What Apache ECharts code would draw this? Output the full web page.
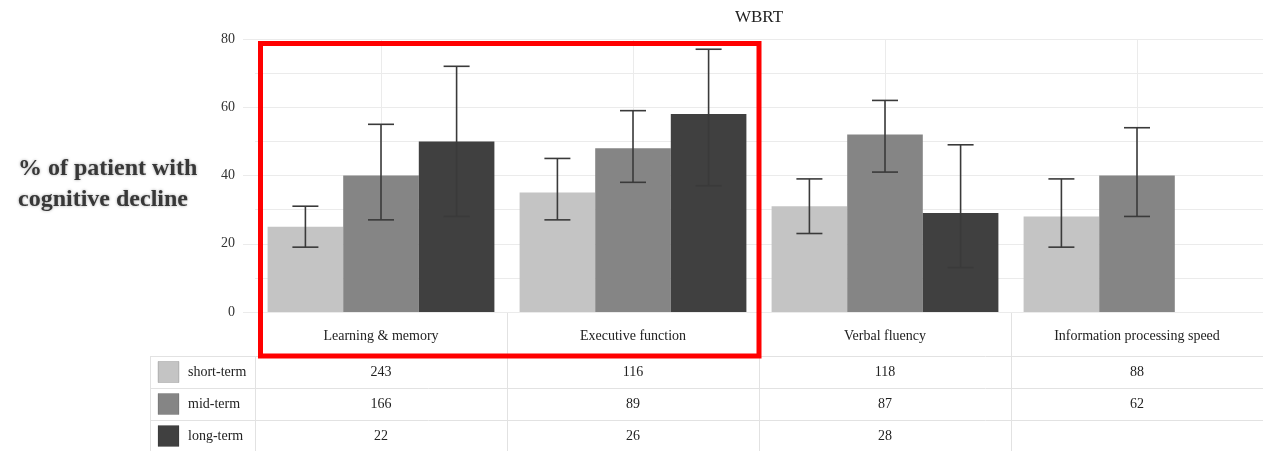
<!DOCTYPE html>
<html><head><meta charset="utf-8">
<script src="https://cdn.jsdelivr.net/npm/echarts@6/dist/echarts.min.js"></script>
<style>html,body{margin:0;padding:0;background:#fff}#c{width:1263px;height:451px}</style>
</head><body><div id="c"></div>
<script>
const categories = ['Learning & memory','Executive function','Verbal fluency','Information processing speed'];
const seriesNames = ['short-term','mid-term','long-term'];
const shortTerm = [25,35,31,28];
const midTerm = [40,48,52,40];
const longTerm = [50,58,29,null];
const shortErrLow = [19,27,23,19];
const shortErrHigh = [31,45,39,39];
const midErrLow = [27,38,41,28];
const midErrHigh = [55,59,62,54];
const longErrLow = [28,37,13,null];
const longErrHigh = [72,77,49,null];
const shortN = [243,116,118,88];
const midN = [166,89,87,62];
const longN = [22,26,28,null];
const yMin = 0, yMax = 80, yLabelStep = 20;

const colors = ['#c4c4c4','#858585','#404040'];
const FONT = 'Liberation Serif';
const GRID = '#ebebeb';

const values = [shortTerm, midTerm, longTerm];
const lows = [shortErrLow, midErrLow, longErrLow];
const highs = [shortErrHigh, midErrHigh, longErrHigh];
const counts = [shortN, midN, longN];

function errSeries(k) {
  const data = [];
  categories.forEach((c, i) => {
    if (lows[k][i] != null && highs[k][i] != null) data.push([i, lows[k][i], highs[k][i]]);
  });
  return {
    type: 'custom', name: seriesNames[k] + ' err', z: 5,
    encode: { x: 0, y: [1, 2] },
    data: data,
    renderItem: function (params, api) {
      const idx = api.value(0);
      const band = api.size([1, 0])[0];
      const bw = band * 0.9 / 3;
      const x = api.coord([idx, 0])[0] + (k - 1) * bw;
      const yl = api.coord([idx, api.value(1)])[1];
      const yh = api.coord([idx, api.value(2)])[1];
      const cap = 13;
      const st = { stroke: '#3a3a3a', lineWidth: 1.6 };
      return { type: 'group', children: [
        { type: 'line', shape: { x1: x, y1: yl, x2: x, y2: yh }, style: st },
        { type: 'line', shape: { x1: x - cap, y1: yh, x2: x + cap, y2: yh }, style: st },
        { type: 'line', shape: { x1: x - cap, y1: yl, x2: x + cap, y2: yl }, style: st }
      ]};
    }
  };
}

const option = {
  animation: false,
  backgroundColor: '#fff',
  grid: { left: 255, top: 39, width: 1013, height: 273, containLabel: false },
  xAxis: {
    type: 'category', data: categories,
    axisLine: { show: true, lineStyle: { color: GRID, width: 1 } },
    axisTick: { show: false },
    axisLabel: { margin: 17, fontFamily: FONT, fontSize: 14, color: '#222' },
    splitLine: { show: true, alignWithLabel: true, lineStyle: { color: GRID, width: 1 } }
  },
  yAxis: {
    type: 'value', min: yMin, max: yMax, interval: yLabelStep,
    axisLine: { show: false },
    axisTick: { show: true, length: 12, lineStyle: { color: GRID } },
    minorTick: { show: false, splitNumber: 2 },
    minorSplitLine: { show: true, lineStyle: { color: GRID, width: 1 } },
    axisLabel: { margin: 20, fontFamily: FONT, fontSize: 14, color: '#333' },
    splitLine: { show: true, lineStyle: { color: GRID, width: 1 } }
  },
  series: [
    ...seriesNames.map((n, k) => ({
      type: 'bar', name: n, data: values[k],
      barGap: '0%', barCategoryGap: '10%',
      itemStyle: { color: colors[k] }
    })),
    errSeries(0), errSeries(1), errSeries(2)
  ]
};

const chart = echarts.init(document.getElementById('c'), null, { renderer: 'canvas' });
chart.setOption(option);

const cx = i => chart.convertToPixel({ xAxisIndex: 0 }, i);
const cy = v => chart.convertToPixel({ yAxisIndex: 0 }, v);
const band = cx(1) - cx(0);
const bnd = i => cx(0) - band / 2 + i * band;
const y0 = cy(yMin), yTop = cy(yMax);
const tableTop = y0 + 44;
const rowH = 32;
const tableLeft = bnd(0) - 105;
const tableBottom = 451 + 2;
const rightEdge = 1263 + 5;
const LINE = '#e2e2e2';

const g = [];
g.push({ type: 'text', x: (bnd(0) + bnd(4)) / 2, y: 18, style: { text: 'WBRT', font: '17px "' + FONT + '"', fill: '#222', align: 'center', verticalAlign: 'middle' } });
g.push({ type: 'text', x: 18, y: 169, style: { text: '% of patient with', font: 'bold 24px "' + FONT + '"', fill: '#383838', align: 'left', verticalAlign: 'middle', textShadowBlur: 3, textShadowColor: 'rgba(0,0,0,0.35)' } });
g.push({ type: 'text', x: 18, y: 200, style: { text: 'cognitive decline', font: 'bold 24px "' + FONT + '"', fill: '#383838', align: 'left', verticalAlign: 'middle', textShadowBlur: 3, textShadowColor: 'rgba(0,0,0,0.35)' } });
for (let r = 0; r < 3; r++) {
  const y = Math.round(tableTop + r * rowH) + 0.5;
  g.push({ type: 'line', shape: { x1: tableLeft, y1: y, x2: rightEdge, y2: y }, style: { stroke: LINE, lineWidth: 1 } });
}
g.push({ type: 'line', shape: { x1: tableLeft + 0.5, y1: tableTop, x2: tableLeft + 0.5, y2: tableBottom }, style: { stroke: LINE, lineWidth: 1 } });
g.push({ type: 'line', shape: { x1: Math.round(bnd(0)) + 0.5, y1: tableTop, x2: Math.round(bnd(0)) + 0.5, y2: tableBottom }, style: { stroke: LINE, lineWidth: 1 } });
for (let i = 1; i < categories.length; i++) {
  const x = Math.round(bnd(i)) + 0.5;
  g.push({ type: 'line', shape: { x1: x, y1: y0, x2: x, y2: tableBottom }, style: { stroke: LINE, lineWidth: 1 } });
}
seriesNames.forEach((n, k) => {
  const yc = tableTop + rowH * k + rowH / 2;
  g.push({ type: 'rect', shape: { x: tableLeft + 8, y: yc - 10.5, width: 21, height: 21 }, style: { fill: colors[k], stroke: 'rgba(0,0,0,0.15)', lineWidth: 1 } });
  g.push({ type: 'text', x: tableLeft + 38, y: yc, style: { text: n, font: '14px "' + FONT + '"', fill: '#222', align: 'left', verticalAlign: 'middle' } });
  categories.forEach((c, i) => {
    const v = counts[k][i];
    if (v == null) return;
    g.push({ type: 'text', x: cx(i), y: yc, style: { text: String(v), font: '14px "' + FONT + '"', fill: '#222', align: 'center', verticalAlign: 'middle' } });
  });
});
const rx = bnd(0) + 5.5, ry = yTop + 4.5;
g.push({ type: 'rect', z: 100, shape: { x: rx, y: ry, width: bnd(2) - rx, height: tableTop - ry }, style: { fill: 'none', stroke: '#ff0000', lineWidth: 5 } });

chart.setOption({ graphic: { elements: g } });
</script>
</body></html>
